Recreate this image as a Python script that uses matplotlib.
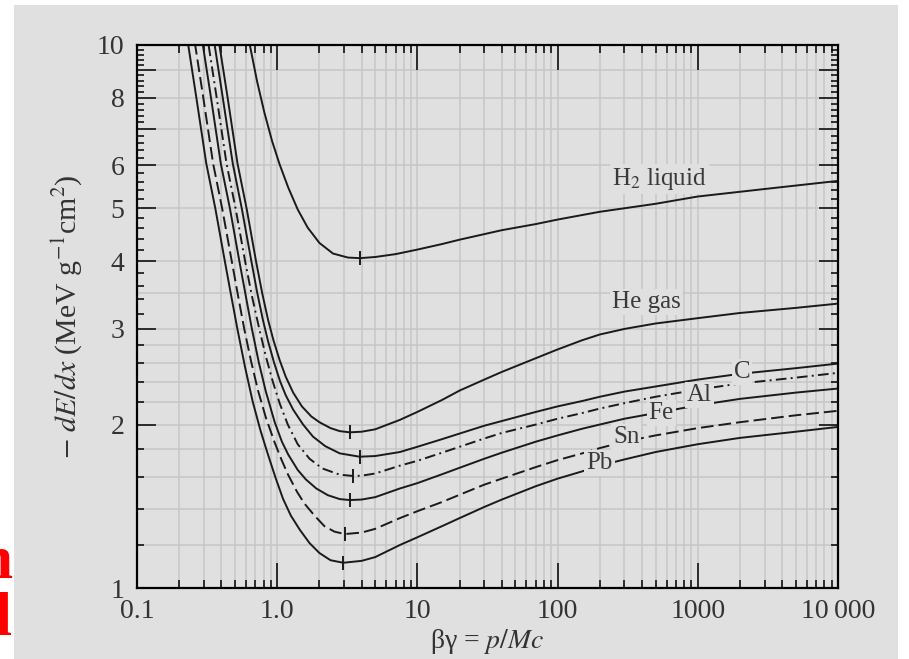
import matplotlib
matplotlib.use('Agg')
import matplotlib.pyplot as plt
from matplotlib.patches import Rectangle
from matplotlib.ticker import FixedLocator, FixedFormatter, LogLocator, NullFormatter

plt.rcParams['font.family'] = ['Liberation Serif', 'DejaVu Serif']
plt.rcParams['mathtext.fontset'] = 'stix'

# values: beta*gamma vs -dE/dx (MeV g^-1 cm^2)
h2_bg = [0.6, 0.638, 0.72, 0.81, 0.92, 1.04, 1.2, 1.4, 1.65, 2.0, 2.5, 3.2, 3.9, 5, 7, 10, 15, 20, 40, 70, 100, 200, 500, 1000, 3000, 10000]
h2_de = [10.8, 10, 8.55, 7.51, 6.65, 6.03, 5.46, 4.98, 4.61, 4.32, 4.13, 4.06, 4.05, 4.07, 4.12, 4.2, 4.3, 4.38, 4.56, 4.68, 4.77, 4.93, 5.1, 5.26, 5.43, 5.62]

he_bg = [0.364, 0.387, 0.443, 0.521, 0.605, 0.706, 0.78, 0.86, 0.94, 1.04, 1.15, 1.3, 1.5, 1.75, 2.0, 2.4, 2.79, 3.29,
         4, 5, 7.5, 10, 15, 20, 30, 40, 70, 100, 150, 200, 300, 500, 1000, 2000, 5000, 10000]
he_de = [10.9, 10, 8, 6.05, 5, 4, 3.5, 3.12, 2.86, 2.63, 2.45, 2.29, 2.16, 2.07, 2.02, 1.97, 1.945, 1.935,
         1.94, 1.96, 2.04, 2.11, 2.22, 2.31, 2.42, 2.5, 2.65, 2.75, 2.86, 2.93, 3.0, 3.07, 3.14, 3.21, 3.28, 3.34]

c_bg = [0.337, 0.358, 0.409, 0.482, 0.559, 0.654, 0.72, 0.79, 0.86, 0.95, 1.05, 1.15, 1.3, 1.53, 1.8, 2.2, 2.79, 3.87,
        5, 7.5, 10, 15, 20, 30, 40, 70, 100, 150, 200, 300, 500, 1000, 2000, 5000, 10000]
c_de = [10.9, 10, 8, 6.05, 5, 4, 3.5, 3.12, 2.85, 2.6, 2.4, 2.265, 2.13, 2.0, 1.9, 1.825, 1.77, 1.745,
        1.75, 1.78, 1.82, 1.88, 1.925, 1.99, 2.03, 2.11, 2.16, 2.21, 2.25, 2.3, 2.35, 2.42, 2.48, 2.54, 2.59]

al_bg = [0.304, 0.324, 0.37, 0.435, 0.505, 0.59, 0.66, 0.745, 0.83, 0.93, 1.04, 1.19, 1.4, 1.7, 2.1, 2.79, 3.48,
         4, 5, 7.5, 10, 15, 20, 30, 40, 70, 100, 150, 200, 300, 500, 1000, 2000, 5000, 10000]
al_de = [10.9, 10, 8, 6.05, 5, 4, 3.45, 3, 2.67, 2.4, 2.19, 2.0, 1.84, 1.73, 1.66, 1.617, 1.608,
         1.61, 1.625, 1.68, 1.715, 1.775, 1.82, 1.885, 1.93, 2.0, 2.05, 2.1, 2.14, 2.19, 2.25, 2.32, 2.38, 2.44, 2.49]

fe_bg = [0.277, 0.295, 0.337, 0.396, 0.46, 0.537, 0.597, 0.66, 0.74, 0.83, 0.96, 1.08, 1.2, 1.4, 1.6, 1.9, 2.3, 2.79, 3.29,
         4, 5, 7.5, 10, 15, 20, 30, 40, 70, 100, 150, 200, 300, 500, 1000, 2000, 5000, 10000]
fe_de = [10.9, 10, 8, 6.05, 5, 4, 3.45, 3, 2.6, 2.3, 2.02, 1.86, 1.76, 1.65, 1.585, 1.525, 1.482, 1.458, 1.452,
         1.455, 1.47, 1.525, 1.56, 1.62, 1.665, 1.73, 1.775, 1.86, 1.91, 1.965, 2.0, 2.05, 2.1, 2.17, 2.23, 2.29, 2.33]

sn_bg = [0.244, 0.26, 0.297, 0.349, 0.405, 0.474, 0.526, 0.582, 0.65, 0.73, 0.83, 0.954, 1.076, 1.191, 1.382, 1.566, 1.842, 2.17, 2.56, 3.03,
         4, 5, 7.5, 10, 15, 20, 30, 40, 70, 100, 150, 200, 300, 500, 1000, 2000, 5000, 10000]
sn_de = [10.9, 10, 8, 6.05, 5, 4, 3.45, 3, 2.62, 2.31, 2.06, 1.86, 1.72, 1.62, 1.505, 1.43, 1.36, 1.3, 1.27, 1.257,
         1.265, 1.285, 1.345, 1.385, 1.44, 1.485, 1.55, 1.59, 1.67, 1.72, 1.77, 1.81, 1.86, 1.91, 1.97, 2.02, 2.08, 2.12]

pb_bg = [0.218, 0.232, 0.265, 0.312, 0.362, 0.423, 0.47, 0.52, 0.59, 0.67, 0.76, 0.86, 0.97, 1.1, 1.25, 1.45, 1.7, 2.0, 2.4, 2.96,
         4, 5, 7.5, 10, 15, 20, 30, 40, 70, 100, 150, 200, 300, 500, 1000, 2000, 5000, 10000]
pb_de = [10.9, 10, 8, 6.05, 5, 4, 3.45, 3, 2.55, 2.2, 1.95, 1.76, 1.6, 1.46, 1.36, 1.28, 1.21, 1.16, 1.125, 1.113,
         1.122, 1.14, 1.2, 1.24, 1.3, 1.345, 1.41, 1.455, 1.54, 1.59, 1.64, 1.68, 1.725, 1.78, 1.84, 1.89, 1.94, 1.98]

# minimum-ionisation marks
min_bg = [3.9, 3.29, 3.87, 3.48, 3.29, 3.03, 2.96]
min_de = [4.05, 1.935, 1.745, 1.608, 1.452, 1.257, 1.113]

labels = ['H$_2$ liquid', 'He gas', 'C', 'Al', 'Fe', 'Sn', 'Pb']
label_bg = [531, 429, 2070, 1023, 548, 309, 199]
label_de = [5.67, 3.36, 2.50, 2.27, 2.10, 1.90, 1.70]

bg = '#e0e0e0'
gridc = '#c6c6c6'
ink = '#1a1a1a'
txt = '#333333'

fig = plt.figure(figsize=(9.09, 6.59), dpi=100, facecolor='white')
fig.patches.append(Rectangle((14 / 909, 0), (898 - 14) / 909, 1 - 5 / 659,
                             transform=fig.transFigure, facecolor=bg, edgecolor='none', zorder=-10))
ax = fig.add_axes([137 / 909, 1 - 588 / 659, (838 - 137) / 909, (588 - 45) / 659])
ax.set_facecolor(bg)
ax.set_xscale('log')
ax.set_yscale('log')
ax.set_xlim(0.1, 10000)
ax.set_ylim(1, 10)

# grid
for e in [0.1, 1, 10, 100, 1000]:
    for k in range(1, 10):
        v = e * k
        if 0.1 < v < 10000:
            ax.axvline(v, color=gridc, lw=1.1, zorder=0)
hgrid = [1.2, 1.4, 1.6, 1.8, 2.0, 2.2, 2.4, 2.6, 2.8, 3.0, 3.5, 4, 5, 6, 7, 8, 9]
for v in hgrid:
    ax.axhline(v, color=gridc, lw=1.1, zorder=0)

lw = 1.4
ax.plot(h2_bg, h2_de, color=ink, lw=lw, zorder=3)
ax.plot(he_bg, he_de, color=ink, lw=lw, zorder=3)
ax.plot(c_bg, c_de, color=ink, lw=lw, zorder=3)
ax.plot(al_bg, al_de, color=ink, lw=lw, dashes=(5.5, 2.2, 1.0, 2.2), zorder=3)
ax.plot(fe_bg, fe_de, color=ink, lw=lw, zorder=3)
ax.plot(sn_bg, sn_de, color=ink, lw=lw, dashes=(6.5, 2.6), zorder=3)
ax.plot(pb_bg, pb_de, color=ink, lw=lw, zorder=3)
ax.plot(min_bg, min_de, linestyle='none', marker='|', markersize=10, mew=1.4, color=ink, zorder=4)

for s, x, y in zip(labels, label_bg, label_de):
    ax.text(x, y, s, fontsize=18, color='#3a3a3a', ha='center', va='center', zorder=5,
            bbox=dict(facecolor=bg, edgecolor='none', pad=1.5))

# ticks
ax.xaxis.set_major_locator(FixedLocator([0.1, 1, 10, 100, 1000, 10000]))
ax.xaxis.set_major_formatter(FixedFormatter(['0.1', '1.0', '10', '100', '1000', '10\u2009000']))
ax.xaxis.set_minor_locator(LogLocator(base=10, subs=range(2, 10), numticks=20))
ax.xaxis.set_minor_formatter(NullFormatter())
ax.yaxis.set_major_locator(FixedLocator(range(1, 11)))
ax.yaxis.set_major_formatter(FixedFormatter(['1', '2', '3', '4', '5', '6', '', '8', '', '10']))
ax.yaxis.set_minor_locator(FixedLocator([i / 5 for i in range(6, 50) if i % 5]))
ax.yaxis.set_minor_formatter(NullFormatter())

ax.tick_params(which='both', direction='in', top=True, right=True, color='black', width=1.1)
ax.tick_params(axis='x', which='major', length=18, pad=8, labelsize=20, labelcolor=txt)
ax.tick_params(axis='x', which='minor', length=5.5)
ax.tick_params(axis='y', which='major', length=14, pad=9, labelsize=20, labelcolor=txt)
ax.tick_params(axis='y', which='minor', length=5)
for sp in ax.spines.values():
    sp.set_linewidth(1.6)
    sp.set_zorder(6)

ax.set_xlabel('βγ = $p/Mc$', fontsize=20, color=txt, labelpad=2)
ax.set_ylabel(r'$-\ dE/dx$ (MeV g$^{-1}$cm$^{2}$)', fontsize=21.5, color=txt, labelpad=9)

# clipped red slide text at the left edge
fig.text(12 / 909, 1 - 578 / 659, 'n', fontsize=44, color='red', fontweight='bold',
         ha='right', va='baseline')
fig.text(12 / 909, 1 - 635 / 659, 'l', fontsize=44, color='red', fontweight='bold',
         ha='right', va='baseline')

fig.savefig('out.png', dpi=100, facecolor='white')
